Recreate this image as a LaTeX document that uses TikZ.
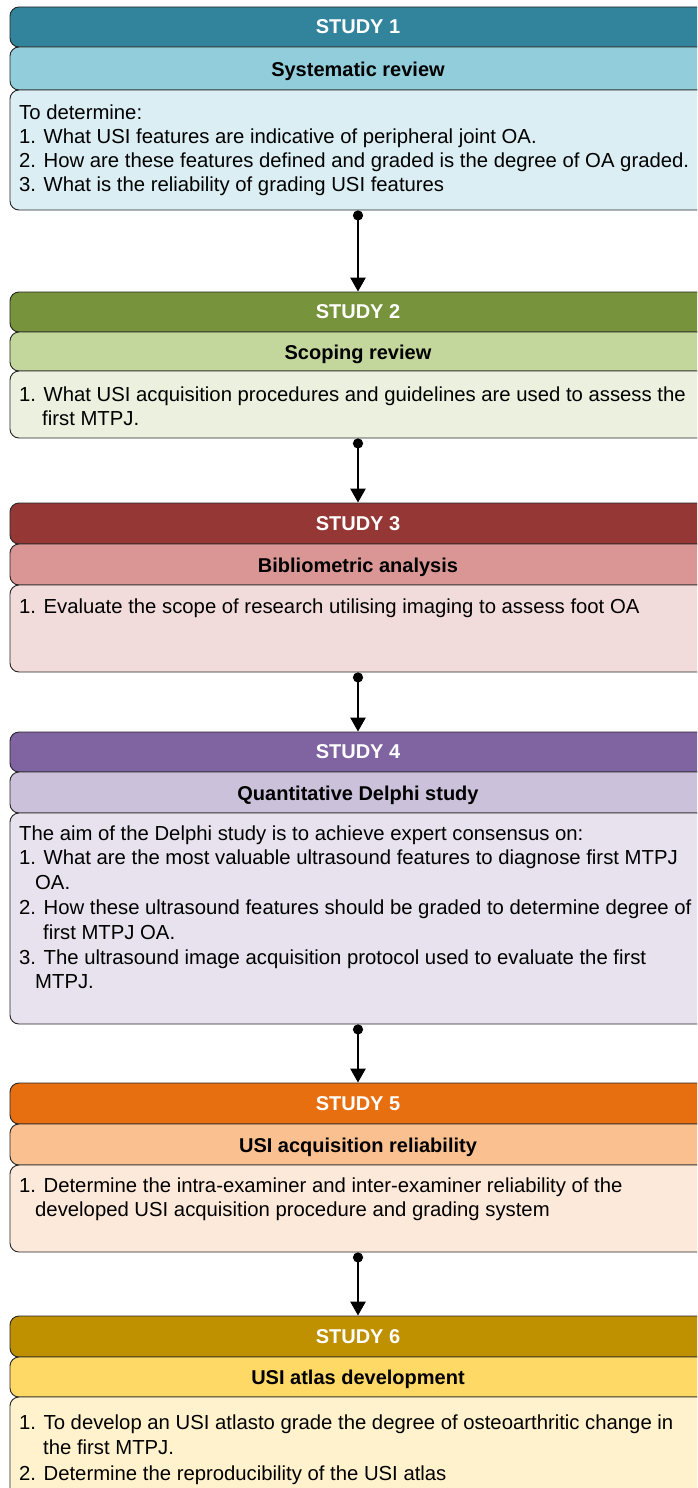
\documentclass[tikz,border=0pt]{standalone}
\usepackage{fontspec}
\setmainfont{Liberation Sans}
\usetikzlibrary{arrows.meta}

% header / subtitle / body fills for the six studies
\definecolor{boxline}{HTML}{262626}
\definecolor{hA}{HTML}{31849B}\definecolor{sA}{HTML}{92CDDC}\definecolor{bA}{HTML}{DAEEF3}
\definecolor{hB}{HTML}{77933C}\definecolor{sB}{HTML}{C3D69B}\definecolor{bB}{HTML}{EBF1DE}
\definecolor{hC}{HTML}{953735}\definecolor{sC}{HTML}{D99694}\definecolor{bC}{HTML}{F2DCDB}
\definecolor{hD}{HTML}{8064A2}\definecolor{sD}{HTML}{CCC1DA}\definecolor{bD}{HTML}{E7E2ED}
\definecolor{hE}{HTML}{E86F10}\definecolor{sE}{HTML}{FAC090}\definecolor{bE}{HTML}{FDE9D9}
\definecolor{hF}{HTML}{BF9000}\definecolor{sF}{HTML}{FFD966}\definecolor{bF}{HTML}{FFF2CC}

% a stack of text lines whose reference point is the first baseline
\newcommand{\linestack}[1]{\vtop{#1}}
\newcommand{\tline}[1]{\hbox{#1}}

\begin{document}
\begin{tikzpicture}[x=1pt,y=-1pt,
  box/.style={draw=boxline, line width=0.9pt, rounded corners=9pt,
              minimum width=696pt, inner sep=0pt},
  hdr/.style={box, text=white, font=\bfseries\fontsize{20}{24}\selectfont},
  subhdr/.style={box, text height=20pt, text depth=4.5pt,
                 font=\bfseries\fontsize{20}{24}\selectfont},
  bodybox/.style={box},
  txt/.style={anchor=base west, inner sep=0pt,
              font=\fontsize{20.3}{24}\selectfont},
  link/.style={line width=2.7pt,
               {Circle[length=10pt]}-{Triangle[width=15pt,length=14pt]}}]

\useasboundingbox (0,0) rectangle (697,1488);
\begin{scope}
\clip (0,0) rectangle (697,1488);

% Study 1
\node[hdr, fill=hA, minimum height=40pt] (h1) at (358,27) {STUDY 1};
\node[subhdr, fill=sA, minimum height=43pt] (s1) at (358,68.5) {Systematic review};
\node[bodybox, fill=bA, minimum height=120pt] (b1) at (358,150) {};
\node[txt] (t1) at (19,119) {\linestack{%
\tline{To determine:}
\tline{1. What USI features are indicative of peripheral joint OA.}
\tline{2. How are these features defined and graded is the degree of OA graded.}
\tline{3. What is the reliability of grading USI features}}};

% Study 2
\node[hdr, fill=hB, minimum height=40pt] (h2) at (358,312) {STUDY 2};
\node[subhdr, fill=sB, minimum height=39pt] (s2) at (358,351.5) {Scoping review};
\node[bodybox, fill=bB, minimum height=67pt] (b2) at (358,404.5) {};
\node[txt] (t2) at (19,401) {\linestack{%
\tline{1. What USI acquisition procedures and guidelines are used to assess the}
\tline{\hspace*{23pt}first MTPJ.}}};

% Study 3
\node[hdr, fill=hC, minimum height=41pt] (h3) at (358,523.5) {STUDY 3};
\node[subhdr, fill=sC, minimum height=41pt] (s3) at (358,564.5) {Bibliometric analysis};
\node[bodybox, fill=bC, minimum height=87pt] (b3) at (358,628.5) {};
\node[txt] (t3) at (19,613) {1. Evaluate the scope of research utilising imaging to assess foot OA};

% Study 4
\node[hdr, fill=hD, minimum height=40pt] (h4) at (358,752) {STUDY 4};
\node[subhdr, fill=sD, minimum height=41pt] (s4) at (358,792.5) {Quantitative Delphi study};
\node[bodybox, fill=bD, minimum height=211pt] (b4) at (358,918.5) {};
\node[txt, font=\fontsize{20.3}{24.8}\selectfont] (t4) at (19,840) {\linestack{%
\tline{The aim of the Delphi study is to achieve expert consensus on:}
\tline{1. What are the most valuable ultrasound features to diagnose first MTPJ}
\tline{\hspace*{16pt}OA.}
\tline{2. How these ultrasound features should be graded to determine degree of}
\tline{\hspace*{24pt}first MTPJ OA.}
\tline{3. The ultrasound image acquisition protocol used to evaluate the first}
\tline{\hspace*{16pt}MTPJ.}}};

% Study 5
\node[hdr, fill=hE, minimum height=41pt] (h5) at (358,1103.5) {STUDY 5};
\node[subhdr, fill=sE, minimum height=41pt] (s5) at (358,1144.5) {USI acquisition reliability};
\node[bodybox, fill=bE, minimum height=87pt] (b5) at (358,1208.5) {};
\node[txt] (t5) at (19,1192) {\linestack{%
\tline{1. Determine the intra-examiner and inter-examiner reliability of the}
\tline{\hspace*{16pt}developed USI acquisition procedure and grading system}}};

% Study 6
\node[hdr, fill=hF, minimum height=41pt] (h6) at (358,1336.5) {STUDY 6};
\node[subhdr, fill=sF, minimum height=40pt] (s6) at (358,1377) {USI atlas development};
\node[bodybox, fill=bF, minimum height=113pt] (b6) at (358,1453.5) {};
\node[txt, font=\fontsize{20.3}{25.5}\selectfont] (t6) at (19,1429) {\linestack{%
\tline{1. To develop an USI atlasto grade the degree of osteoarthritic change in}
\tline{\hspace*{24pt}the first MTPJ.}
\tline{2. Determine the reproducibility of the USI atlas}}};
\end{scope}

% links between consecutive studies
\draw[link] (b1.south) -- (h2.north);
\draw[link] (b2.south) -- (h3.north);
\draw[link] (b3.south) -- (h4.north);
\draw[link] (b4.south) -- (h5.north);
\draw[link] (b5.south) -- (h6.north);
\end{tikzpicture}
\end{document}
